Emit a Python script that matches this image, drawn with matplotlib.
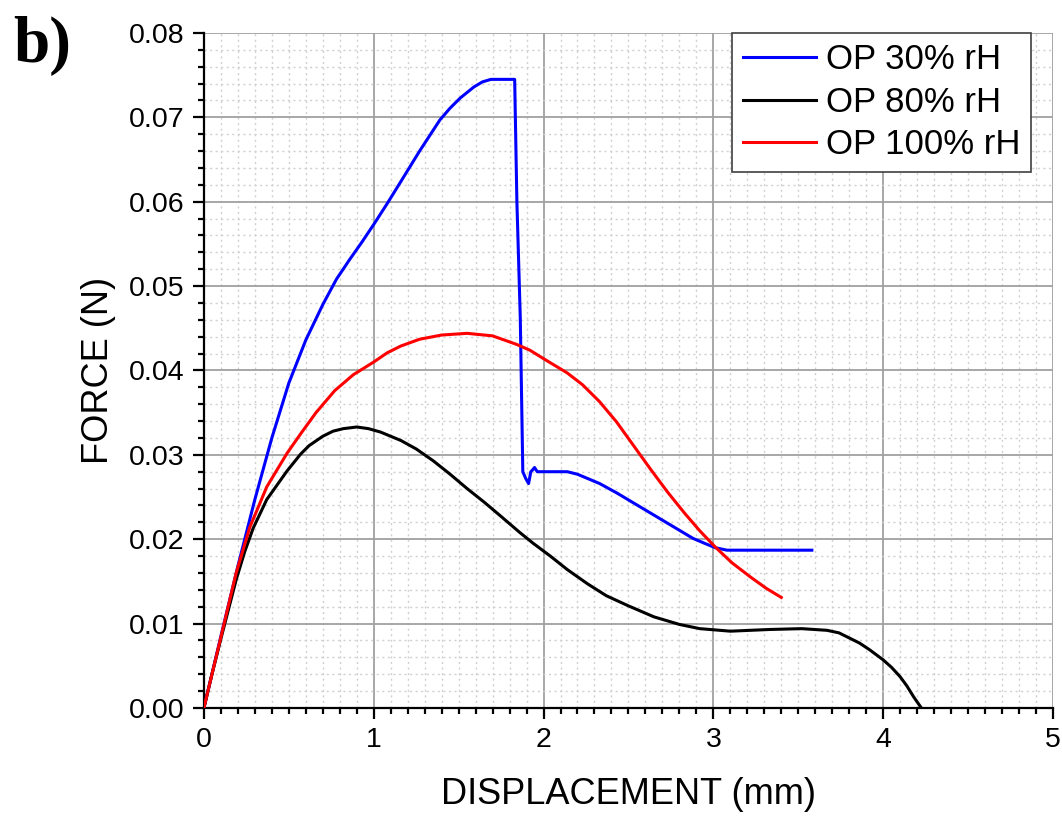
import matplotlib
matplotlib.use('Agg')
import matplotlib.pyplot as pl
from matplotlib.ticker import MultipleLocator, FormatStrFormatter

pl.rcParams['font.family'] = ['Liberation Sans', 'DejaVu Sans']

# OP 30% rH
x30 = [0.0, 0.1, 0.2, 0.3, 0.4, 0.5, 0.6, 0.7, 0.78, 0.86, 0.93, 1.0, 1.08,
       1.16, 1.27, 1.39, 1.45, 1.51, 1.59, 1.64, 1.69, 1.76, 1.83, 1.843,
       1.863, 1.878, 1.895, 1.912, 1.925, 1.935, 1.947, 1.963, 2.0, 2.1,
       2.14, 2.2, 2.33, 2.43, 2.53, 2.63, 2.73, 2.88, 2.95, 3.01, 3.08, 3.2,
       3.4, 3.58]
f30 = [0.0, 0.0085, 0.0168, 0.0247, 0.0320, 0.0385, 0.0436, 0.0478, 0.0508,
       0.0532, 0.0552, 0.0573, 0.0598, 0.0624, 0.0660, 0.0697, 0.0711,
       0.0723, 0.0736, 0.0742, 0.0745, 0.0745, 0.0745, 0.0601, 0.0463,
       0.0280, 0.0272, 0.0266, 0.0280, 0.0282, 0.0285, 0.0280, 0.0280,
       0.0280, 0.0280, 0.0277, 0.0266, 0.0255, 0.0243, 0.0231, 0.0219,
       0.0201, 0.0195, 0.0190, 0.0187, 0.0187, 0.0187, 0.0187]

# OP 80% rH
x80 = [0.0, 0.05, 0.1, 0.19, 0.24, 0.29, 0.37, 0.49, 0.57, 0.62, 0.7, 0.76,
       0.82, 0.9, 0.97, 1.04, 1.16, 1.25, 1.35, 1.45, 1.55, 1.65, 1.75, 1.86,
       1.94, 2.04, 2.14, 2.26, 2.37, 2.5, 2.65, 2.8, 2.92, 3.1, 3.33, 3.52,
       3.67, 3.74, 3.8, 3.86, 3.92, 4.0, 4.05, 4.1, 4.14, 4.18, 4.225]
f80 = [0.0, 0.0042, 0.0082, 0.0152, 0.0185, 0.0213, 0.0247, 0.0281, 0.0301,
       0.0311, 0.0322, 0.0328, 0.0331, 0.0333, 0.0331, 0.0327, 0.0317,
       0.0307, 0.0293, 0.0277, 0.0260, 0.0244, 0.0227, 0.0208, 0.0195,
       0.0180, 0.0164, 0.0147, 0.0133, 0.0121, 0.0108, 0.0099, 0.0094,
       0.0091, 0.0093, 0.0094, 0.0092, 0.0089, 0.0083, 0.0077, 0.0069,
       0.0057, 0.0048, 0.0037, 0.0026, 0.0013, 0.0]

# OP 100% rH
x100 = [0.0, 0.05, 0.1, 0.19, 0.27, 0.37, 0.49, 0.57, 0.66, 0.77, 0.88, 1.0,
        1.08, 1.16, 1.27, 1.4, 1.55, 1.7, 1.84, 1.92, 2.0, 2.14, 2.23, 2.33,
        2.43, 2.53, 2.63, 2.73, 2.83, 2.92, 3.01, 3.11, 3.22, 3.31, 3.4]
f100 = [0.0, 0.0042, 0.0084, 0.0160, 0.0214, 0.0262, 0.0302, 0.0325, 0.0350,
        0.0376, 0.0395, 0.0410, 0.0421, 0.0429, 0.0437, 0.0442, 0.0444,
        0.0441, 0.0431, 0.0424, 0.0414, 0.0397, 0.0383, 0.0363, 0.0339,
        0.0311, 0.0283, 0.0256, 0.0231, 0.0210, 0.0191, 0.0172, 0.0155,
        0.0142, 0.0131]

fig = pl.figure(figsize=(10.62, 8.16), dpi=100)
ax = fig.add_axes([0.192, 0.1324, 0.7995, 0.8272])

ax.plot(x30, f30, color='#0000ff', lw=2.2, label='OP 30% rH', zorder=3)
ax.plot(x80, f80, color='black', lw=2.2, label='OP 80% rH', zorder=3)
ax.plot(x100, f100, color='#ff0000', lw=2.2, label='OP 100% rH', zorder=3)

ax.set_xlim(0, 5)
ax.set_ylim(0, 0.08)
ax.xaxis.set_major_locator(MultipleLocator(1))
ax.xaxis.set_minor_locator(MultipleLocator(0.1))
ax.yaxis.set_major_locator(MultipleLocator(0.01))
ax.yaxis.set_minor_locator(MultipleLocator(0.002))
ax.yaxis.set_major_formatter(FormatStrFormatter('%.2f'))

ax.grid(which='major', color='#a0a0a0', lw=1.3, ls='-')
ax.grid(which='minor', color='#d0d0d0', lw=1.0, ls=(0, (1.5, 2.5)))
ax.set_axisbelow(True)

ax.spines['right'].set_visible(False)
ax.spines['top'].set_visible(False)
ax.spines['left'].set_linewidth(1.6)
ax.spines['bottom'].set_linewidth(1.6)
ax.tick_params(which='major', length=8, width=1.6, labelsize=20.5, pad=6)
ax.tick_params(which='minor', length=4.5, width=1.6)

ax.set_xlabel('DISPLACEMENT (mm)', fontsize=26, labelpad=17)
ax.set_ylabel('FORCE (N)', fontsize=26, labelpad=9)

leg = ax.legend(loc='upper right', fontsize=25, fancybox=False,
                framealpha=1, edgecolor='#404040', borderaxespad=0,
                bbox_to_anchor=(1031 / 1062, 1 - 33 / 816),
                bbox_transform=fig.transFigure,
                handlelength=2.1, handletextpad=0.3, labelspacing=0.27,
                borderpad=0.3)
leg.get_frame().set_linewidth(1.2)

fig.text(13 / 1062, 1 - 16 / 816, 'b)', fontsize=47, fontweight='bold',
         family='Liberation Serif', va='top', ha='left')

fig.savefig('out.png', dpi=100)
